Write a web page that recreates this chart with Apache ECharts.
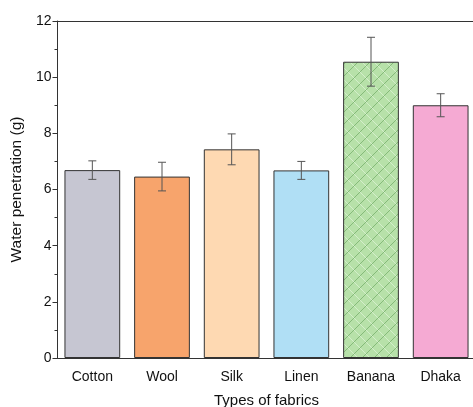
<!DOCTYPE html>
<html>
<head>
<meta charset="utf-8">
<script src="https://cdn.jsdelivr.net/npm/echarts@6/dist/echarts.min.js"></script>
<style>
  html, body { margin: 0; padding: 0; background: #ffffff; }
  #chart { width: 473px; height: 407px; }
</style>
</head>
<body>
<div id="chart"></div>
<script>
// Water penetration by fabric type, mean ± standard deviation
const fabrics = ['Cotton', 'Wool', 'Silk', 'Linen', 'Banana', 'Dhaka'];
const penetration = [6.69, 6.46, 7.43, 6.68, 10.55, 9.0];
const deviation = [0.33, 0.51, 0.55, 0.32, 0.87, 0.41];
const yTicks = [0, 2, 4, 6, 8, 10, 12];

const fills = ['#c6c6d2', '#f7a46c', '#fed9b2', '#b0dff5', null, '#f5aad3'];

// Banana bar: light green with fine cross hatch and darker diagonal strokes
function hatchPattern() {
  const c = document.createElement('canvas');
  c.width = 12; c.height = 12;
  const g = c.getContext('2d');
  g.fillStyle = '#b7e1a9';
  g.fillRect(0, 0, 12, 12);
  // faint light back-diagonals
  g.strokeStyle = 'rgba(235,250,230,0.55)';
  g.lineWidth = 1;
  g.beginPath();
  g.moveTo(0, 0); g.lineTo(12, 12);
  g.moveTo(-6, 6); g.lineTo(6, 18);
  g.moveTo(6, -6); g.lineTo(18, 6);
  g.stroke();
  // darker forward diagonal
  g.strokeStyle = 'rgba(100,160,90,0.6)';
  g.beginPath();
  g.moveTo(0, 12); g.lineTo(12, 0);
  g.stroke();
  return c;
}

const barData = penetration.map((v, i) => ({
  value: v,
  itemStyle: {
    color: fills[i] ? fills[i] : { image: hatchPattern(), repeat: 'repeat' }
  }
}));

const errorData = penetration.map((v, i) => [i, v - deviation[i], v + deviation[i]]);

const chart = echarts.init(document.getElementById('chart'), null, { renderer: 'canvas' });
const axisColor = '#333333';
const fontFamily = 'Liberation Sans, Arial, sans-serif';
const labelFont = { fontFamily: fontFamily, fontSize: 14, color: '#111' };

chart.setOption({
  animation: false,
  backgroundColor: '#ffffff',
  grid: { left: 57.5, top: 21, width: 418, bottom: 49, containLabel: false, outerBoundsMode: 'none' },
  xAxis: [
    {
      type: 'category',
      data: fabrics,
      position: 'bottom',
      name: 'Types of fabrics',
      nameLocation: 'middle',
      nameGap: 35,
      nameTextStyle: { fontFamily: fontFamily, fontSize: 15, color: '#111' },
      axisLine: { lineStyle: { color: axisColor, width: 1 } },
      axisTick: { alignWithLabel: true, length: 5, lineStyle: { color: axisColor } },
      axisLabel: Object.assign({ margin: 12, interval: 0 }, labelFont)
    },
    {
      // boundary ticks between categories
      type: 'category',
      data: fabrics,
      position: 'bottom',
      axisLine: { show: false },
      axisTick: { length: 3, lineStyle: { color: axisColor } },
      axisLabel: { show: false }
    },
    {
      type: 'category',
      data: fabrics,
      position: 'top',
      axisLine: { lineStyle: { color: axisColor, width: 1 } },
      axisTick: { show: false },
      axisLabel: { show: false }
    }
  ],
  yAxis: {
    type: 'value',
    min: yTicks[0],
    max: yTicks[yTicks.length - 1],
    interval: 2,
    name: 'Water penetration (g)',
    nameLocation: 'middle',
    nameGap: 32,
    nameTextStyle: { fontFamily: fontFamily, fontSize: 15.5, color: '#111' },
    axisLine: { show: true, lineStyle: { color: axisColor, width: 1 } },
    axisTick: { show: true, length: 5, lineStyle: { color: axisColor } },
    minorTick: { show: true, splitNumber: 2, length: 3, lineStyle: { color: axisColor } },
    splitLine: { show: false },
    axisLabel: Object.assign({ margin: 6 }, labelFont)
  },
  series: [
    {
      type: 'bar',
      data: barData,
      barWidth: '80%',
      itemStyle: { borderColor: '#333', borderWidth: 1 }
    },
    {
      type: 'custom',
      data: errorData,
      z: 10,
      renderItem: function (params, api) {
        const x = api.value(0);
        const lo = api.coord([x, api.value(1)]);
        const hi = api.coord([x, api.value(2)]);
        const cap = 4;
        const style = { stroke: '#555', lineWidth: 1, fill: null };
        return {
          type: 'group',
          children: [
            { type: 'line', shape: { x1: hi[0], y1: hi[1], x2: lo[0], y2: lo[1] }, style: style },
            { type: 'line', shape: { x1: hi[0] - cap, y1: hi[1], x2: hi[0] + cap, y2: hi[1] }, style: style },
            { type: 'line', shape: { x1: lo[0] - cap, y1: lo[1], x2: lo[0] + cap, y2: lo[1] }, style: style }
          ]
        };
      }
    }
  ]
});
</script>
</body>
</html>
